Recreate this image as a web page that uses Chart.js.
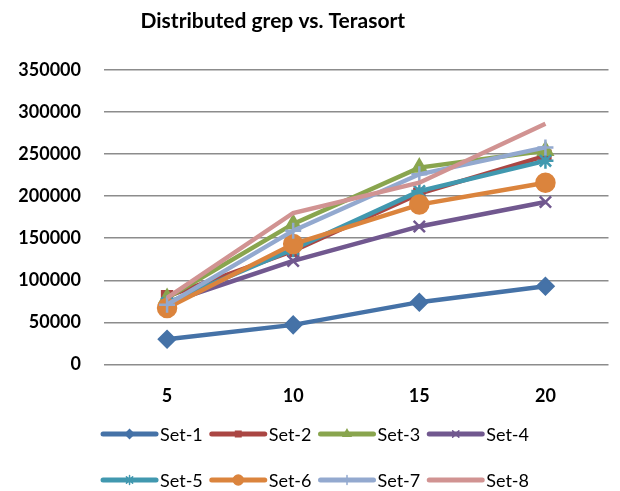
<!DOCTYPE html>
<html lang="en">
<head>
    <meta charset="UTF-8">
    <title>Distributed grep vs. Terasort</title>
    <script src="https://cdn.jsdelivr.net/npm/chart.js"></script>
    <style>
        body { margin: 0; background: #fff; }
        #wrap { width: 620px; height: 491px; }
    </style>
</head>
<body>
    <div id="wrap"><canvas id="grepChart"></canvas></div>

    <script>
        const chartTitle = 'Distributed grep vs. Terasort';
        const categories = ['5', '10', '15', '20'];
        const seriesNames = ['Set-1', 'Set-2', 'Set-3', 'Set-4', 'Set-5', 'Set-6', 'Set-7', 'Set-8'];
        const set1 = [30000, 47000, 74000, 93000];
        const set2 = [81000, 135000, 203000, 248000];
        const set3 = [79000, 167000, 234000, 254000];
        const set4 = [73000, 123000, 164000, 193000];
        const set5 = [73000, 137000, 206000, 242000];
        const set6 = [67000, 143000, 190000, 216000];
        const set7 = [71000, 159000, 226000, 258000];
        const set8 = [79000, 180000, 216000, 286000];
        const yTicks = [0, 50000, 100000, 150000, 200000, 250000, 300000, 350000];

        const allSeries = [set1, set2, set3, set4, set5, set6, set7, set8];
        const colors = ['#4572A7', '#AA4643', '#89A54E', '#71588F', '#4198AF', '#DB843D', '#93A9CF', '#D19392'];
        const markers = ['rectRot', 'rect', 'triangle', 'crossRot', 'star', 'circle', 'cross', false];
        const radii = [8, 7, 8, 8, 8, 9, 8, 0];

        const FONT = 'Lato, "Liberation Sans", sans-serif';

        // title sits left of centre in the original, so draw it by hand
        const titlePlugin = {
            id: 'offsetTitle',
            afterDraw(chart) {
                const ctx = chart.ctx;
                ctx.save();
                ctx.font = 'bold 21px ' + FONT;
                ctx.fillStyle = '#000';
                ctx.textAlign = 'center';
                ctx.textBaseline = 'middle';
                ctx.fillText(chartTitle, chart.width * 0.44, 21);
                ctx.restore();
            }
        };

        // legend drawn by hand: two rows of four, line sample with marker
        const legendPlugin = {
            id: 'twoRowLegend',
            afterDraw(chart) {
                const ctx = chart.ctx;
                const lineLen = 53, gapText = 4, gapItem = 9;
                ctx.save();
                ctx.font = '18px ' + FONT;
                ctx.textBaseline = 'middle';
                const rows = [[0, 1, 2, 3], [4, 5, 6, 7]];
                const rowY = [chart.height - 57, chart.height - 11];
                rows.forEach((row, r) => {
                    const widths = row.map(i => lineLen + gapText + ctx.measureText(seriesNames[i]).width);
                    const total = widths.reduce((a, b) => a + b, 0) + gapItem * (row.length - 1);
                    let x = (chart.width - total) / 2 + 6;
                    row.forEach((i, k) => {
                        const y = rowY[r];
                        ctx.strokeStyle = colors[i];
                        ctx.lineWidth = 5;
                        ctx.lineCap = 'round';
                        ctx.beginPath();
                        ctx.moveTo(x, y);
                        ctx.lineTo(x + lineLen, y);
                        ctx.stroke();
                        if (markers[i]) {
                            ctx.fillStyle = colors[i];
                            ctx.lineWidth = 1.5;
                            Chart.helpers.drawPoint(ctx, {
                                pointStyle: markers[i],
                                radius: radii[i] * 0.55,
                                rotation: 0,
                                borderWidth: 1.5
                            }, x + lineLen / 2, y);
                        }
                        ctx.fillStyle = '#000';
                        ctx.fillText(seriesNames[i], x + lineLen + gapText, y + 1);
                        x += widths[k] + gapItem;
                    });
                });
                ctx.restore();
            }
        };

        const datasets = allSeries.map((data, i) => ({
            label: seriesNames[i],
            data: data,
            borderColor: colors[i],
            backgroundColor: colors[i],
            borderWidth: 4.5,
            pointStyle: markers[i],
            pointRadius: radii[i],
            pointBorderWidth: 2.5,
            pointBackgroundColor: colors[i],
            pointBorderColor: colors[i],
            tension: 0,
            order: 8 - i
        }));

        new Chart(document.getElementById('grepChart'), {
            type: 'line',
            data: { labels: categories, datasets: datasets },
            options: {
                responsive: true,
                maintainAspectRatio: false,
                animation: false,
                layout: { padding: { left: 9, right: 9, top: 70, bottom: 63 } },
                plugins: {
                    legend: { display: false },
                    tooltip: { enabled: false },
                    title: { display: false }
                },
                scales: {
                    x: {
                        offset: true,
                        grid: { display: false, drawTicks: false },
                        border: { display: false },
                        ticks: {
                            color: '#000',
                            padding: 21,
                            font: { family: FONT, size: 18, weight: 'bold' }
                        }
                    },
                    y: {
                        min: 0,
                        max: 350000,
                        afterBuildTicks(axis) {
                            axis.ticks = yTicks.map(v => ({ value: v }));
                        },
                        afterFit(axis) {
                            axis.width = 95;
                        },
                        grid: { color: '#8c8c8c', lineWidth: 1.5, drawTicks: false },
                        border: { display: false },
                        ticks: {
                            color: '#000',
                            padding: 23,
                            font: { family: FONT, size: 18, weight: 'bold' },
                            callback: v => String(v)
                        }
                    }
                }
            },
            plugins: [titlePlugin, legendPlugin]
        });
    </script>
</body>
</html>
